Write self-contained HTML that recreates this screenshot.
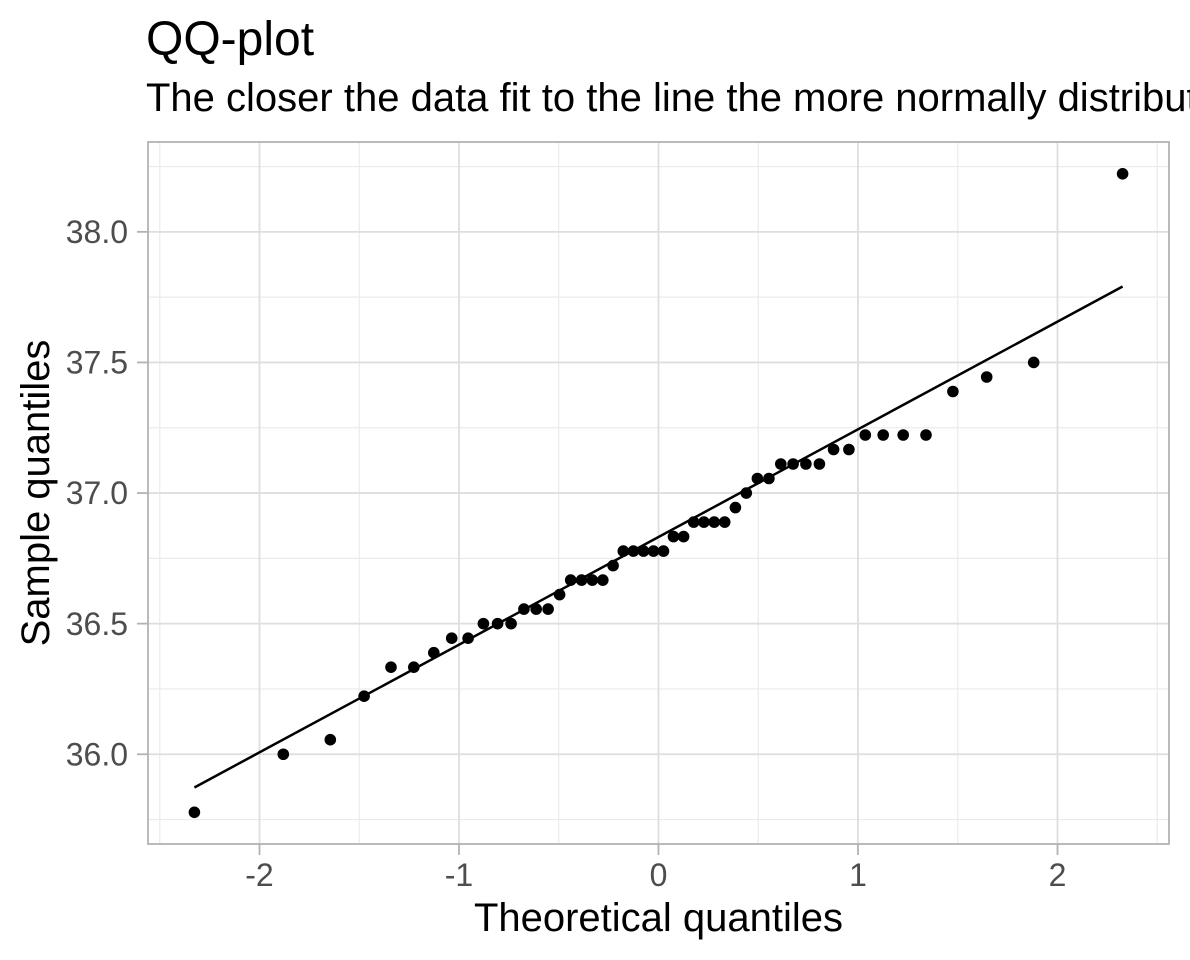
<!DOCTYPE html>
<html>
<head>
<meta charset="utf-8">
<style>
  html, body { margin: 0; padding: 0; background: #ffffff; }
  body { width: 1190px; height: 960px; overflow: hidden; }
  svg { display: block; }
  text { font-family: "Liberation Sans", Arial, Helvetica, sans-serif; }
</style>
</head>
<body>
<svg width="1190" height="960" viewBox="0 0 1190 960" xmlns="http://www.w3.org/2000/svg">
  <rect x="0" y="0" width="1190" height="960" fill="#ffffff"/>

  <text x="146" y="55" font-size="48" fill="#000000">QQ-plot</text>
  <text x="146" y="111" font-size="40" fill="#000000">The closer the data fit to the line the more normally distributed</text>

  <g stroke="#EBEBEB" stroke-width="1.2" fill="none">
    <line x1="159.75" y1="142" x2="159.75" y2="844"/>
    <line x1="359.25" y1="142" x2="359.25" y2="844"/>
    <line x1="558.75" y1="142" x2="558.75" y2="844"/>
    <line x1="758.25" y1="142" x2="758.25" y2="844"/>
    <line x1="957.75" y1="142" x2="957.75" y2="844"/>
    <line x1="1157.25" y1="142" x2="1157.25" y2="844"/>
    <line x1="148" y1="166.55" x2="1169" y2="166.55"/>
    <line x1="148" y1="297.15" x2="1169" y2="297.15"/>
    <line x1="148" y1="427.75" x2="1169" y2="427.75"/>
    <line x1="148" y1="558.35" x2="1169" y2="558.35"/>
    <line x1="148" y1="688.95" x2="1169" y2="688.95"/>
    <line x1="148" y1="819.55" x2="1169" y2="819.55"/>
  </g>
  <g stroke="#DEDEDE" stroke-width="1.8" fill="none">
    <line x1="259.5" y1="142" x2="259.5" y2="844"/>
    <line x1="459" y1="142" x2="459" y2="844"/>
    <line x1="658.5" y1="142" x2="658.5" y2="844"/>
    <line x1="858" y1="142" x2="858" y2="844"/>
    <line x1="1057.5" y1="142" x2="1057.5" y2="844"/>
    <line x1="148" y1="231.85" x2="1169" y2="231.85"/>
    <line x1="148" y1="362.45" x2="1169" y2="362.45"/>
    <line x1="148" y1="493.05" x2="1169" y2="493.05"/>
    <line x1="148" y1="623.65" x2="1169" y2="623.65"/>
    <line x1="148" y1="754.25" x2="1169" y2="754.25"/>
  </g>

  <line x1="194.4" y1="787.5" x2="1122.6" y2="286.5" stroke="#000000" stroke-width="2.5"/>

  <g fill="#000000">
    <circle cx="194.4" cy="812.3" r="5.8"/>
    <circle cx="283.3" cy="754.25" r="5.8"/>
    <circle cx="330.3" cy="739.7" r="5.8"/>
    <circle cx="364.1" cy="696.2" r="5.8"/>
    <circle cx="391.0" cy="667.2" r="5.8"/>
    <circle cx="413.8" cy="667.2" r="5.8"/>
    <circle cx="433.8" cy="652.7" r="5.8"/>
    <circle cx="451.7" cy="638.2" r="5.8"/>
    <circle cx="468.1" cy="638.2" r="5.8"/>
    <circle cx="483.4" cy="623.65" r="5.8"/>
    <circle cx="497.6" cy="623.65" r="5.8"/>
    <circle cx="511.1" cy="623.65" r="5.8"/>
    <circle cx="523.9" cy="609.1" r="5.8"/>
    <circle cx="536.2" cy="609.1" r="5.8"/>
    <circle cx="548.1" cy="609.1" r="5.8"/>
    <circle cx="559.6" cy="594.6" r="5.8"/>
    <circle cx="570.7" cy="580.1" r="5.8"/>
    <circle cx="581.6" cy="580.1" r="5.8"/>
    <circle cx="592.3" cy="580.1" r="5.8"/>
    <circle cx="602.8" cy="580.1" r="5.8"/>
    <circle cx="613.1" cy="565.6" r="5.8"/>
    <circle cx="623.3" cy="551.1" r="5.8"/>
    <circle cx="633.4" cy="551.1" r="5.8"/>
    <circle cx="643.5" cy="551.1" r="5.8"/>
    <circle cx="653.5" cy="551.1" r="5.8"/>
    <circle cx="663.5" cy="551.1" r="5.8"/>
    <circle cx="673.5" cy="536.6" r="5.8"/>
    <circle cx="683.6" cy="536.6" r="5.8"/>
    <circle cx="693.7" cy="522.1" r="5.8"/>
    <circle cx="703.9" cy="522.1" r="5.8"/>
    <circle cx="714.2" cy="522.1" r="5.8"/>
    <circle cx="724.7" cy="522.1" r="5.8"/>
    <circle cx="735.4" cy="507.6" r="5.8"/>
    <circle cx="746.3" cy="493.05" r="5.8"/>
    <circle cx="757.4" cy="478.5" r="5.8"/>
    <circle cx="768.9" cy="478.5" r="5.8"/>
    <circle cx="780.8" cy="464.0" r="5.8"/>
    <circle cx="793.1" cy="464.0" r="5.8"/>
    <circle cx="805.9" cy="464.0" r="5.8"/>
    <circle cx="819.4" cy="464.0" r="5.8"/>
    <circle cx="833.6" cy="449.5" r="5.8"/>
    <circle cx="848.9" cy="449.5" r="5.8"/>
    <circle cx="865.3" cy="435.0" r="5.8"/>
    <circle cx="883.2" cy="435.0" r="5.8"/>
    <circle cx="903.2" cy="435.0" r="5.8"/>
    <circle cx="926.0" cy="435.0" r="5.8"/>
    <circle cx="952.9" cy="391.5" r="5.8"/>
    <circle cx="986.7" cy="377.0" r="5.8"/>
    <circle cx="1033.7" cy="362.45" r="5.8"/>
    <circle cx="1122.6" cy="173.8" r="5.8"/>
  </g>

  <rect x="148" y="142" width="1021" height="702" fill="none" stroke="#B3B3B3" stroke-width="1.8"/>

  <g stroke="#B3B3B3" stroke-width="1.8">
    <line x1="137" y1="231.85" x2="148" y2="231.85"/>
    <line x1="137" y1="362.45" x2="148" y2="362.45"/>
    <line x1="137" y1="493.05" x2="148" y2="493.05"/>
    <line x1="137" y1="623.65" x2="148" y2="623.65"/>
    <line x1="137" y1="754.25" x2="148" y2="754.25"/>
    <line x1="259.5" y1="844" x2="259.5" y2="855"/>
    <line x1="459" y1="844" x2="459" y2="855"/>
    <line x1="658.5" y1="844" x2="658.5" y2="855"/>
    <line x1="858" y1="844" x2="858" y2="855"/>
    <line x1="1057.5" y1="844" x2="1057.5" y2="855"/>
  </g>

  <g font-size="32" fill="#4D4D4D" text-anchor="end">
    <text x="128" y="243">38.0</text>
    <text x="128" y="373.6">37.5</text>
    <text x="128" y="504.2">37.0</text>
    <text x="128" y="634.8">36.5</text>
    <text x="128" y="765.4">36.0</text>
  </g>
  <g font-size="32" fill="#4D4D4D" text-anchor="middle">
    <text x="259.5" y="886">-2</text>
    <text x="459" y="886">-1</text>
    <text x="658.5" y="886">0</text>
    <text x="858" y="886">1</text>
    <text x="1057.5" y="886">2</text>
  </g>

  <text x="658.5" y="931" font-size="40" fill="#000000" text-anchor="middle">Theoretical quantiles</text>
  <text transform="translate(49,493) rotate(-90)" font-size="40" fill="#000000" text-anchor="middle">Sample quantiles</text>
</svg>
</body>
</html>
